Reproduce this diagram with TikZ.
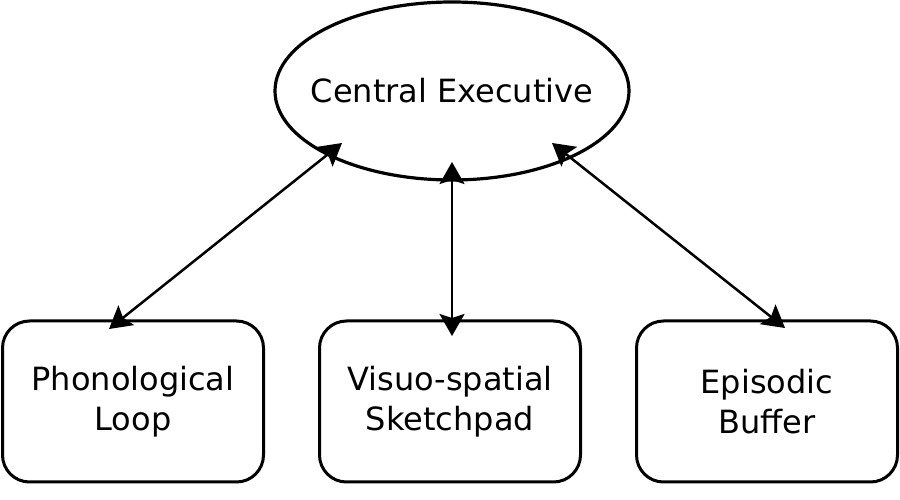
\documentclass[tikz,border=0pt]{standalone}
\usepackage{fontspec}
\setmainfont{DejaVu Sans}
\usepackage{tikz}
\usetikzlibrary{positioning, shapes.geometric, arrows.meta}

\begin{document}
\begin{tikzpicture}[x=1pt, y=1pt,
  part/.style={draw, line width=3pt, rectangle, rounded corners=27pt, minimum width=261pt, minimum height=161pt, outer sep=0pt, inner sep=0pt, align=center, font=\fontsize{32}{40}\selectfont},
  link/.style={{Stealth[length=22pt, width=25pt, inset=4pt]}-{Stealth[length=22pt, width=25pt, inset=4pt]}, line width=2.5pt}]
\useasboundingbox (0,0) rectangle (900,500);
\node (ce) [draw, ellipse, line width=3.2pt, minimum width=354pt, minimum height=178pt, inner xsep=-20pt, inner ysep=0pt, outer sep=0pt, font=\fontsize{32}{40}\selectfont] at (452,409) {Central Executive};
\node (vs) [part, below=141pt of ce.south, anchor=north, xshift=-2pt] {Visuo-spatial\\Sketchpad};
\node (pl) [part, left=56pt of vs] {Phonological\\Loop};
\node (eb) [part, right=56pt of vs] {Episodic\\Buffer};

\draw[link] ([xshift=-24pt, yshift=-8pt]pl.north) -- ([xshift=-110pt, yshift=-52pt]ce.center);
\draw[link] ([xshift=2pt, yshift=-15pt]vs.north) -- ([yshift=18pt]ce.south);
\draw[link] ([xshift=18pt, yshift=-7pt]eb.north) -- ([xshift=100pt, yshift=-52pt]ce.center);
\end{tikzpicture}
\end{document}
